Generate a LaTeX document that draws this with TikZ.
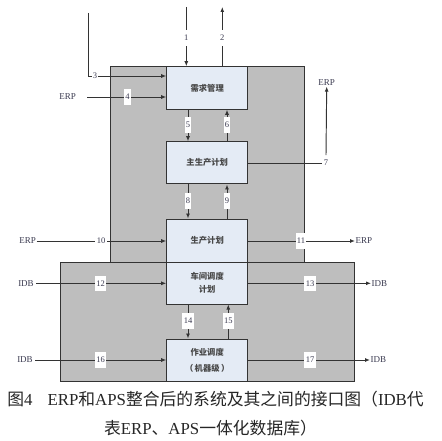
\documentclass[tikz,border=0pt]{standalone}
\usepackage{fontspec}
\setmainfont{Liberation Serif}
\newfontfamily\cjk{Noto Sans CJK SC}
\usetikzlibrary{arrows.meta}
\definecolor{grayfill}{HTML}{BEBEBE}
\definecolor{boxfill}{HTML}{E4EBF5}
\definecolor{ink}{HTML}{333333}
\definecolor{txt}{HTML}{3A3A50}
\begin{document}
\begin{tikzpicture}[x=1pt,y=-1pt,
  region/.style={draw=ink, line width=1pt, fill=grayfill},
  modbox/.style={draw=ink, line width=1pt, fill=boxfill, minimum width=81pt, inner sep=0pt},
  conn/.style={draw=ink, line width=0.95pt},
  arr/.style={conn, -{Latex[length=5pt,width=4pt]}},
  num/.style={fill=white, font=\fontsize{8.5}{9}\selectfont, text=txt, inner xsep=1.3pt, inner ysep=0pt, minimum height=15.5pt},
  ext/.style={font=\fontsize{9}{10}\selectfont, text=txt, inner sep=0.5pt},
  boxtext/.style={font=\cjk\bfseries\fontsize{8.3}{13}\selectfont, text=ink!90, align=center},
  captext/.style={font=\fontsize{16.8}{19}\selectfont, text=black!85, inner sep=0pt}]
\useasboundingbox (0,0) rectangle (442,441);
\fill[white] (0,0) rectangle (442,441);
% regions
\draw[region] (110,66.7) rectangle (304.5,262);
\draw[region] (60,262) rectangle (354,381);
% boxes
\node[modbox, minimum height=42.6pt, boxtext] (b1) at (207.2,88) {需求管理};
\node[modbox, minimum height=42.3pt, boxtext] (b2) at (207.2,162.85) {主生产计划};
\node[modbox, minimum height=43pt, boxtext] (b3) at (207.2,240.5) {生产计划};
\node[modbox, minimum height=42pt, boxtext] (b4) at (207.2,283) {车间调度\\计划};
\node[modbox, minimum height=42pt, boxtext] (b5) at (207.2,360) {作业调度\\[3pt]（\,机器级\,）};
% helper coordinates
\coordinate (t1) at (186.3,7);
\coordinate (t2) at (222.3,7);
\coordinate (t3) at (88,13);
\coordinate (y76) at (0,76);
\coordinate (s4) at (87,97);
\coordinate (xl) at (188,0);
\coordinate (xr) at (227,0);
\coordinate (xr2) at (228.3,0);
% external labels
\node[ext] (e4) at (67.7,97) {ERP};
\node[ext] (e7) at (326.7,83) {ERP};
\node[ext] (e10) at (27.7,241) {ERP};
\node[ext, anchor=west] (e11) at (355,241) {ERP};
\node[ext] (e12) at (26,283.3) {IDB};
\node[ext, anchor=west] (e13) at (371,283.3) {IDB};
\node[ext] (e16) at (25,360) {IDB};
\node[ext, anchor=west] (e17) at (370,360) {IDB};
\node[num, fill=none] (n7) at (326,163) {7};
% connectors
\draw[arr] (t1) -- (b1.north -| t1);
\draw[arr] (b1.north -| t2) -- (t2);
\draw[arr] (t3) |- (b1.west |- y76);
\draw[arr] (s4) -- (b1.west |- s4);
\draw[arr] (b1.south -| xl) -- (b2.north -| xl);
\draw[arr] (b2.north -| xr) -- (b1.south -| xr);
\draw[conn] (b2.east |- n7) -- (n7.west);
\draw[arr] (n7.north) -- (e7.south);
\draw[arr] (b2.south -| xl) -- (b3.north -| xl);
\draw[arr] (b3.north -| xr) -- (b2.south -| xr);
\draw[arr] (e10.east) -- (b3.west |- e10);
\draw[arr] (b3.east |- e11.west) -- (e11.west);
\draw[arr, shorten <=2pt] (e12.east) -- (b4.west |- e12);
\draw[arr] (b4.east |- e13.west) -- (e13.west);
\draw[arr] (b4.south -| xl) -- (b5.north -| xl);
\draw[arr] (b5.north -| xr2) -- (b4.south -| xr2);
\draw[arr, shorten <=2pt] (e16.east) -- (b5.west |- e16);
\draw[arr] (b5.east |- e17.west) -- (e17.west);
% number labels
\node[num] (n1) at (186.3,38) {1};
\node[num] (n2) at (222.3,38) {2};
\node[num] (n3) at (95,76) {3};
\node[num] (n4) at (127.5,97) {4};
\node[num] (n5) at (188,125) {5};
\node[num] (n6) at (227,125) {6};
\node[num] (n8) at (188,201) {8};
\node[num] (n9) at (227,201) {9};
\node[num] (n10) at (101,241) {10};
\node[num] (n11) at (301,241) {11};
\node[num] (n12) at (100.7,283.3) {12};
\node[num] (n13) at (310,283.3) {13};
\node[num] (n14) at (188,321) {14};
\node[num] (n15) at (228.3,321) {15};
\node[num] (n16) at (100.7,360) {16};
\node[num] (n17) at (310,360) {17};
% caption
\node[captext] (cap1) at (215.5,399.5) {{\cjk 图}4\hspace{0.9em}ERP{\cjk 和}APS{\cjk 整合后的系统及其之间的接口图（}IDB{\cjk 代}};
\node[captext] (cap2) at (210.5,428) {{\cjk 表}ERP{\cjk 、}APS{\cjk 一体化数据库）}};
\end{tikzpicture}
\end{document}
